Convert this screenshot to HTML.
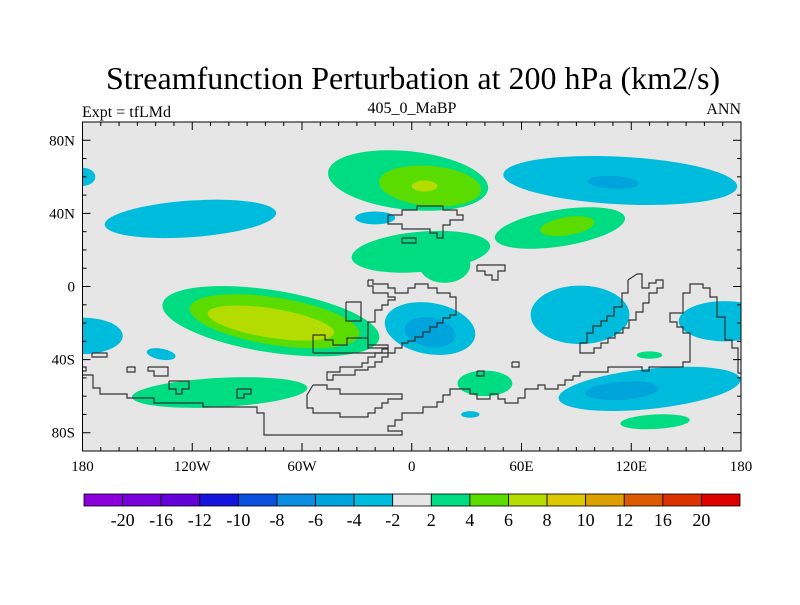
<!DOCTYPE html>
<html><head><meta charset="utf-8"><style>
body{margin:0;background:#fff;}
svg text{font-family:"Liberation Serif",serif;fill:#000;}
</style></head><body>
<svg id="chart" width="800" height="600" viewBox="0 0 800 600" xmlns="http://www.w3.org/2000/svg">
<rect width="800" height="600" fill="#fff"/>
<text x="413" y="89" font-size="32" text-anchor="middle">Streamfunction Perturbation at 200 hPa (km2/s)</text>
<text x="82" y="117" font-size="16">Expt = tfLMd</text>
<text x="412" y="113" font-size="16" text-anchor="middle">405_0_MaBP</text>
<text x="741" y="114" font-size="16" text-anchor="end">ANN</text>
<clipPath id="clip"><rect x="82.5" y="122" width="658.5" height="329"/></clipPath>
<rect x="82.5" y="122" width="658.5" height="329" fill="#e6e6e6"/>
<g id="blobs" clip-path="url(#clip)"></g>
<g id="coast" clip-path="url(#clip)" fill="none" stroke="#333" stroke-width="1.2"></g>
<rect x="82.5" y="122" width="658.5" height="329" fill="none" stroke="#000" stroke-width="1"/>
<g id="axes"></g>
<g id="colorbar"></g>
</svg>
<script>
const levelColors=["#8c00dc","#7800dc","#6400d8","#1414dc","#0a50dc","#0a8ce0","#00a4dc","#00bcdc","#e6e6e6","#00dc82","#5adc00","#b4dc00","#dcc800","#dca000","#dc5a00","#dc3200","#dc0000"];
const levelLabels=["-20","-16","-12","-10","-8","-6","-4","-2","2","4","6","8","10","12","16","20"];
// contour blobs: lon, lat, half-width (deg lon), half-height (deg lat), tilt, colour level index
const blobLon=[-180,-121,-2,10,7,-20,5,81,85,114,110,-77,-75,-77,-180,-137,-105,10,10,92,171,130,40,130,115,32,133,18];
const blobLat=[60,37,58,55,55,37.5,19,32,33,58,57,-19,-19,-20,-27,-37,-58,-23,-25,-15.5,-19,-37.5,-53,-56,-57,-70,-74,12];
const blobRx=[7,47,44,28,7,11,38,36,15,64,14,60,47,35,22,8,48,25,14,27,25,7,15,50,20,5,19,14];
const blobRy=[5,10,16,11,3,3.5,11,10,5,13,3.5,17,13,8,10,3,8,14,8,16,11,2,7,11,5,1.8,4,10];
const blobTilt=[0,-4,6,5,0,0,-5,-9,-9,3,3,9,9,9,0,10,-3,10,10,0,0,0,0,-6,-4,0,-3,0];
const blobLevel=[7,7,9,10,11,7,9,9,10,7,6,9,10,11,7,7,9,7,6,7,7,9,9,7,6,7,9,9];
const xTickLabels=["180","120W","60W","0","60E","120E","180"];
const xTickLons=[-180,-120,-60,0,60,120,180];
const yTickLabels=["80N","40N","0","40S","80S"];
const yTickLats=[80,40,0,-40,-80];
const X0=82.5,X1=741,Y0=122,Y1=451;
const xs=lon=>X0+(lon+180)/360*(X1-X0);
const ys=lat=>Y0+(90-lat)/180*(Y1-Y0);
const NS="http://www.w3.org/2000/svg";
function mk(tag,attrs,parent){const e=document.createElementNS(NS,tag);for(const k in attrs)e.setAttribute(k,attrs[k]);parent.appendChild(e);return e;}
const gB=document.getElementById('blobs');
for(let i=0;i<blobLon.length;i++){
  const cx=xs(blobLon[i]),cy=ys(blobLat[i]);
  const e=mk('ellipse',{cx:cx,cy:cy,rx:blobRx[i]*(X1-X0)/360,ry:blobRy[i]*(Y1-Y0)/180,fill:levelColors[blobLevel[i]],transform:`rotate(${blobTilt[i]} ${cx} ${cy})`},gB);
  
  
}
const coastlines=[
"83,375 93,375 93,388 100,388 100,394 127,394 127,398 154,398 154,403 203,403 203,407 257,407 257,413 264,413 264,435 402,435 402,431 388,431 388,426 395,426 395,420 402,420 402,413 423,413 423,407 437,407 437,402 443,402 443,395 450,395 450,389 470,389 470,394 477,394 477,399 490,399 490,394 498,394 498,399 505,399 505,403 518,403 518,398 525,398 525,389 538,389 538,385 545,385 545,389 558,389 558,385 565,385 565,380 573,380 573,376 580,376 580,372 608,372 608,367 642,367 642,371 649,371 649,367 683,367 683,362 690,362 690,333 683,333 683,327 677,327 677,322 670,322 670,313 683,313 683,293 690,293 690,284 703,284 703,288 710,288 710,297 717,297 717,317 725,317 725,340 732,340 732,348 738,348 738,373 745,373",
"313,385 327,385 327,389 340,389 340,394 402,394 402,399 388,399 388,403 382,403 382,408 375,408 375,413 368,413 368,417 340,417 340,413 313,413 313,408 307,408 307,395 313,385",
"368,280 373,280 373,284 388,284 388,288 395,288 395,293 408,293 408,288 415,288 415,284 428,284 428,288 437,288 437,293 450,293 450,297 456,297 456,315 450,315 450,318 443,318 443,323 437,323 437,327 430,327 430,332 423,332 423,337 415,337 415,341 408,341 408,343 402,343 402,348 395,348 395,353 388,353 388,357 382,357 382,362 375,362 375,367 368,367 368,370 355,370 355,375 333,375 333,380 327,380 327,372 340,372 340,367 362,367 362,363 368,363 368,357 375,357 375,353 382,353 382,349 388,349 388,345 368,345 368,322 375,322 375,310 382,310 382,305 388,305 388,300 395,300 395,297 388,297 388,293 373,293 373,286 368,286 368,280",
"346,302 361,302 361,321 346,321 346,302",
"313,353 313,335 325,335 325,340 333,340 333,345 347,345 347,338 368,338 368,348 388,348 388,353 313,353",
"388,215 402,215 402,210 417,210 417,206 443,206 443,210 457,210 457,215 463,215 463,220 450,220 450,225 443,225 443,238 437,238 437,233 430,233 430,229 402,229 402,224 388,224 388,215",
"402,238 416,238 416,243 402,243 402,238",
"477,265 505,265 505,271 498,271 498,280 492,280 492,275 485,275 485,271 477,271 477,265",
"628,280 637,274 642,274 642,288 649,288 649,283 656,283 656,280 663,280 663,288 657,288 657,293 649,293 649,303 643,303 643,312 636,312 636,320 629,320 629,328 623,328 623,333 615,333 615,338 608,338 608,343 601,343 601,348 594,348 594,353 580,353 580,343 587,343 587,333 593,333 593,326 601,326 601,321 607,321 607,316 614,316 614,307 622,307 622,293 628,293 628,280",
"477,371 484,371 484,376 477,376 477,371","512,362 519,362 519,367 512,367 512,362",
"127,367 135,367 135,372 127,372 127,367","92,353 107,353 107,357 92,357 92,353","83,367 86,367 86,371 83,371",
"148,367 168,367 168,376 154,376 154,371 148,371 148,367",
"169,381 189,381 189,389 182,389 182,394 176,394 176,389 169,389 169,381",
"237,389 251,389 251,394 244,394 244,398 237,398 237,389"
];
const gC=document.getElementById('coast');
coastlines.forEach(p=>{const e=mk('polyline',{points:p},gC);
  
  });
const gA=document.getElementById('axes');
for(let lon=-180;lon<=180;lon+=10){const x=xs(lon),L=(lon%60===0)?8:4;
  const t1=mk('line',{x1:x,y1:Y0,x2:x,y2:Y0+L,stroke:'#000'},gA);
  const t2=mk('line',{x1:x,y1:Y1,x2:x,y2:Y1-L,stroke:'#000'},gA);}
for(let lat=-90;lat<=90;lat+=10){const y=ys(lat),L=(lat%40===0&&Math.abs(lat)<=80)?8:4;
  const t1=mk('line',{x1:X0,y1:y,x2:X0+L,y2:y,stroke:'#000'},gA);
  const t2=mk('line',{x1:X1,y1:y,x2:X1-L,y2:y,stroke:'#000'},gA);}
xTickLabels.forEach((s,i)=>{const t=mk('text',{x:xs(xTickLons[i]),y:471,'font-size':15,'text-anchor':'middle'},gA);t.textContent=s;
  });
yTickLabels.forEach((s,i)=>{const t=mk('text',{x:75,y:ys(yTickLats[i])+5,'font-size':15,'text-anchor':'end'},gA);t.textContent=s;
  });
const gL=document.getElementById('colorbar');
const CB0=84,CB1=740,bw=(CB1-CB0)/levelColors.length;
levelColors.forEach((c,i)=>{const r=mk('rect',{x:CB0+i*bw,y:494,width:bw,height:12,fill:c,stroke:'#000','stroke-width':0.8},gL);
  });
levelLabels.forEach((s,i)=>{const t=mk('text',{x:CB0+(i+1)*bw,y:526,'font-size':18,'text-anchor':'middle'},gL);t.textContent=s;
  });
</script>
</body></html>
